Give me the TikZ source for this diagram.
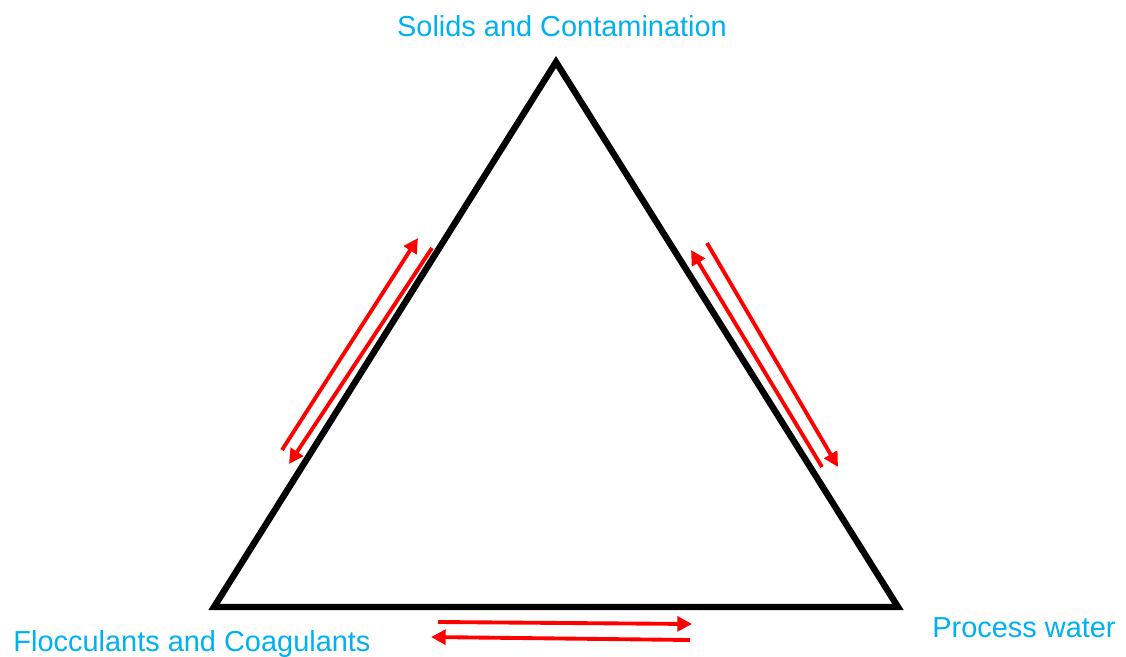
\documentclass[tikz,border=0pt]{standalone}
\usepackage{fontspec}
\setmainfont{Liberation Sans}
\usepackage{xcolor}
\definecolor{lblblue}{RGB}{0,176,240}
\definecolor{flowred}{RGB}{255,0,0}
\usetikzlibrary{arrows.meta,positioning}

\begin{document}
\begin{tikzpicture}[x=0.75pt,y=-0.75pt,
  lbl/.style={text=lblblue,font=\fontsize{21.7}{26}\selectfont,anchor=base,inner sep=0pt},
  flow/.style={-{Triangle[length=11pt,width=11pt]},line width=2.9pt,flowred}]
  \useasboundingbox (0,0) rectangle (1126,656);
  % corners of the triangle
  \coordinate (top) at (556,62);
  \coordinate (bl) at (214,607);
  \coordinate (br) at (898,607);
  \draw[line width=4.8pt,line join=miter] (top) -- (br) -- (bl) -- cycle;
  % labels
  \node[lbl] (solids) at (562,37) {Solids and Contamination};
  \node[lbl] (floc) at (192,651) {Flocculants and Coagulants};
  \node[lbl] (water) at (1024,637) {Process water};
  % left side
  \coordinate (l1a) at (282,450);
  \coordinate (l1b) at (418,238);
  \coordinate (l2a) at (432,248);
  \coordinate (l2b) at (289,464);
  \draw[flow] (l1a) -- (l1b);
  \draw[flow] (l2a) -- (l2b);
  % right side
  \coordinate (r1a) at (707,243);
  \coordinate (r1b) at (838,467);
  \coordinate (r2a) at (822,467);
  \coordinate (r2b) at (691,250);
  \draw[flow] (r1a) -- (r1b);
  \draw[flow] (r2a) -- (r2b);
  % bottom side
  \coordinate (b1a) at (438,622);
  \coordinate (b1b) at (692,624);
  \coordinate (b2a) at (690,640);
  \coordinate (b2b) at (431,637);
  \draw[flow] (b1a) -- (b1b);
  \draw[flow] (b2a) -- (b2b);
\end{tikzpicture}
\end{document}
